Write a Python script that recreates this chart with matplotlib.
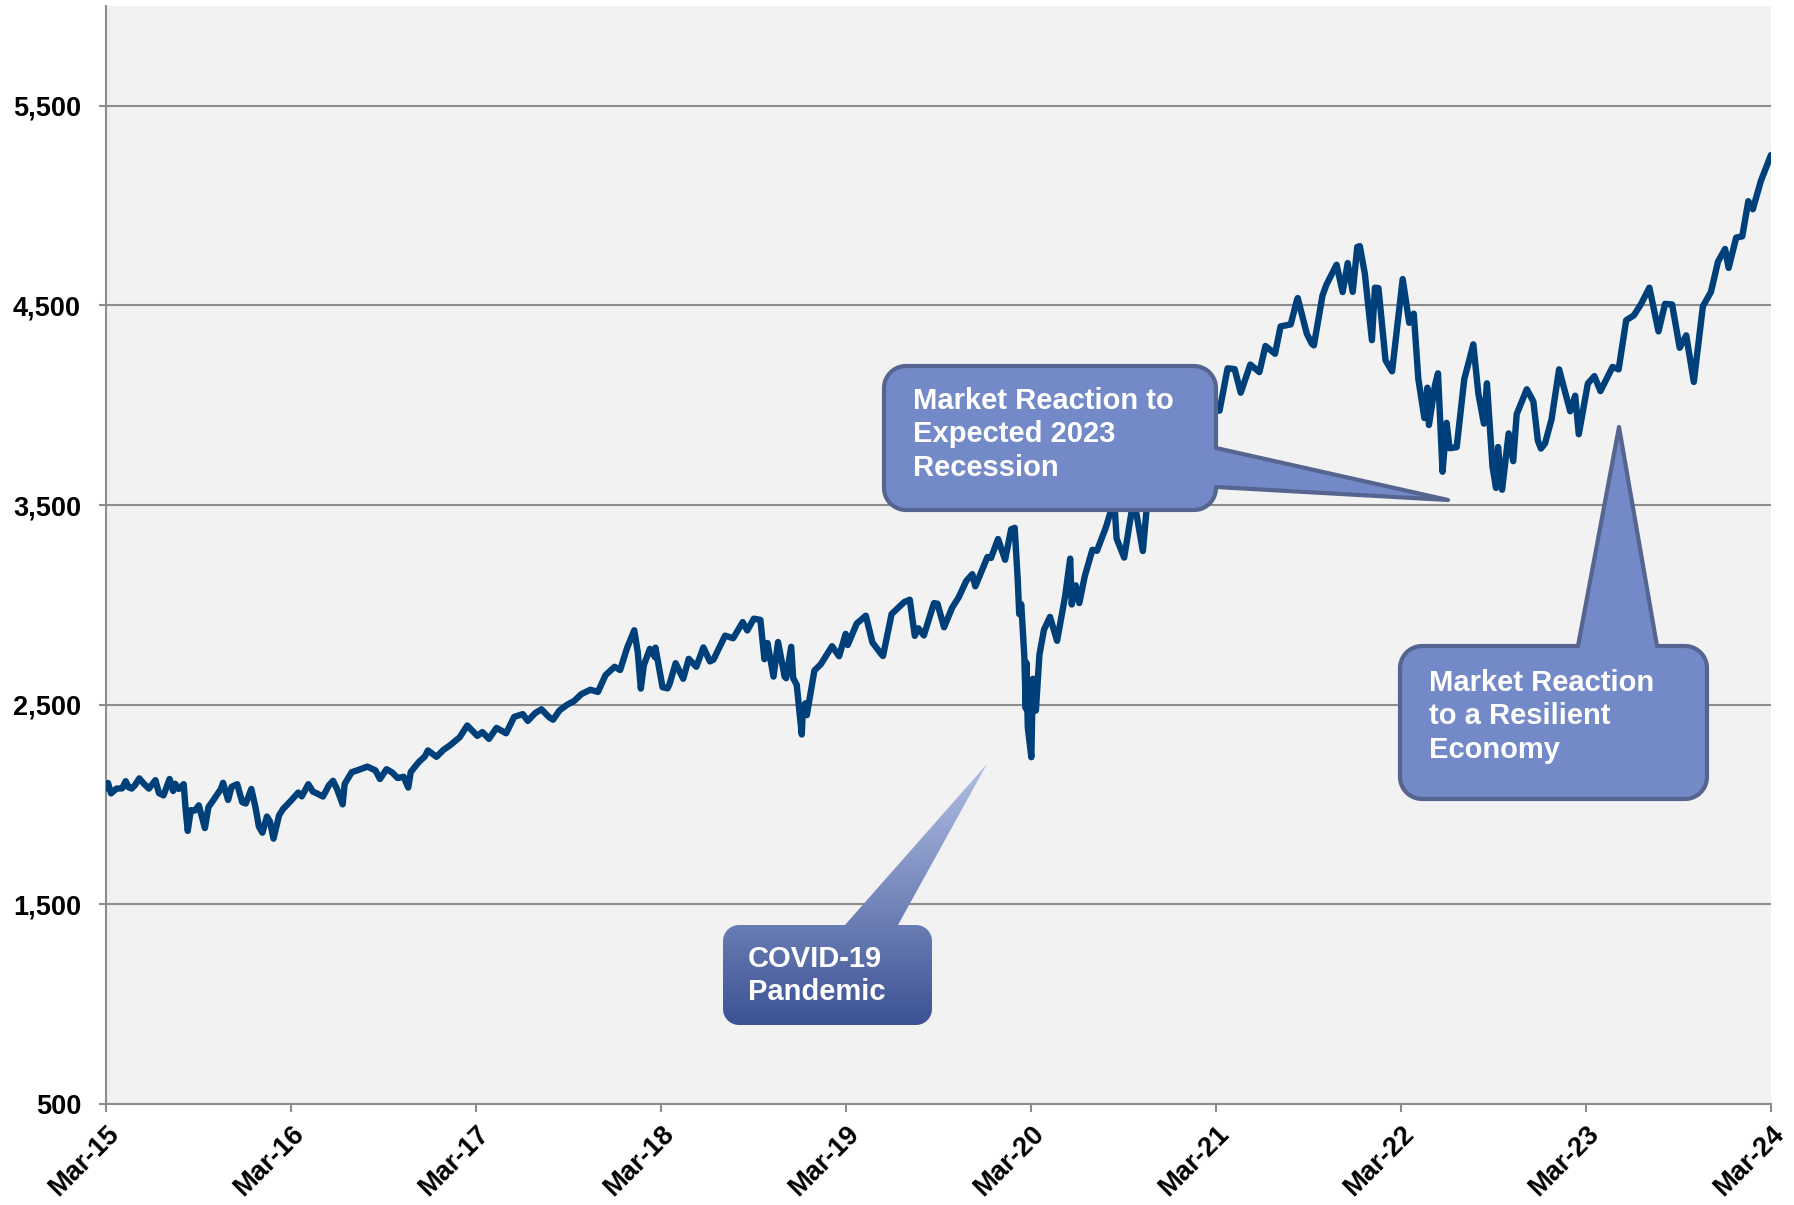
import numpy as np
import pandas as pd
import matplotlib
matplotlib.use("Agg")
import matplotlib.pyplot as plt
from matplotlib.patches import Polygon
from matplotlib.colors import LinearSegmentedColormap
from matplotlib.ticker import FuncFormatter

plt.rcParams['font.family'] = ['Liberation Sans', 'DejaVu Sans']
plt.rcParams['font.weight'] = 'bold'

# S&P 500 Schlusskurse, je Jahr: Tag "MM-TT" und Wert
tage_2015 = ["03-16", "03-20", "03-26", "04-06", "04-17", "04-24", "04-30", "05-06", "05-13", "05-21",
             "05-29", "06-09", "06-22", "06-29", "07-08", "07-20", "07-27", "07-31", "08-07", "08-17",
             "08-21", "08-25", "08-31", "09-08", "09-16", "09-28", "10-05", "10-15", "10-30", "11-03",
             "11-13", "11-20", "12-01", "12-11", "12-18", "12-29"]
werte_2015 = [2081, 2108, 2056, 2080, 2081, 2117, 2086, 2080, 2099, 2131,
              2107, 2080, 2122, 2057, 2046, 2128, 2068, 2104, 2078, 2102,
              1971, 1868, 1972, 1970, 1996, 1882, 1987, 2023, 2079, 2109,
              2023, 2089, 2102, 2012, 2005, 2078]

tage_2016 = ["01-06", "01-13", "01-20", "01-29", "02-04", "02-11", "02-22", "03-01", "03-15", "03-31",
             "04-07", "04-20", "04-29", "05-06", "05-19", "05-31", "06-08", "06-16", "06-27", "07-01",
             "07-15", "07-29", "08-15", "08-31", "09-09", "09-22", "10-03", "10-14", "10-26", "11-04",
             "11-09", "11-25", "12-07", "12-13", "12-30"]
werte_2016 = [1990, 1890, 1859, 1940, 1915, 1829, 1946, 1978, 2015, 2060,
              2041, 2102, 2065, 2057, 2040, 2097, 2119, 2077, 2001, 2103,
              2162, 2174, 2190, 2171, 2128, 2177, 2161, 2133, 2139, 2085,
              2163, 2213, 2241, 2271, 2239]

tage_2017 = ["01-13", "01-26", "02-14", "03-01", "03-21", "03-31", "04-13", "04-28", "05-17", "06-02",
             "06-19", "06-29", "07-14", "07-26", "08-10", "08-18", "08-31", "09-15", "09-29", "10-13",
             "10-31", "11-15", "11-30", "12-18", "12-29"]
werte_2017 = [2274, 2297, 2337, 2396, 2344, 2363, 2329, 2384, 2357, 2439,
              2453, 2419, 2459, 2477, 2438, 2425, 2472, 2500, 2519, 2553,
              2575, 2564, 2648, 2690, 2674]

tage_2018 = ["01-12", "01-26", "02-02", "02-08", "02-14", "02-26", "03-08", "03-09", "03-23", "04-02",
             "04-06", "04-18", "05-03", "05-14", "05-29", "06-12", "06-25", "07-02", "07-25", "08-10",
             "08-29", "09-07", "09-20", "10-03", "10-11", "10-17", "10-29", "11-07", "11-20", "11-23",
             "12-03", "12-07", "12-14", "12-24", "12-26", "12-31"]
werte_2018 = [2786, 2873, 2762, 2581, 2698, 2780, 2738, 2786, 2588, 2582,
              2604, 2708, 2630, 2730, 2690, 2787, 2717, 2726, 2846, 2833,
              2914, 2872, 2931, 2925, 2728, 2809, 2641, 2814, 2641, 2633,
              2790, 2633, 2600, 2351, 2468, 2507]

tage_2019 = ["01-03", "01-18", "01-31", "02-22", "03-08", "03-21", "03-25", "04-12", "04-30", "05-13",
             "05-31", "06-03", "06-20", "07-15", "07-26", "08-05", "08-12", "08-23", "09-12", "09-19",
             "10-02", "10-18", "10-31", "11-15", "11-27", "12-03", "12-27"]
werte_2019 = [2448, 2671, 2704, 2793, 2743, 2855, 2799, 2907, 2946, 2812,
              2752, 2744, 2954, 3014, 3026, 2845, 2883, 2847, 3009, 3006,
              2888, 2986, 3038, 3120, 3154, 3093, 3240]

tage_2020 = ["01-03", "01-17", "01-31", "02-12", "02-19", "02-25", "02-28", "03-03", "03-09", "03-12",
             "03-13", "03-16", "03-23", "03-26", "04-01", "04-08", "04-17", "04-29", "05-13", "05-29",
             "06-08", "06-11", "06-19", "06-26", "07-07", "07-22", "07-31", "08-18", "08-31", "09-02",
             "09-08", "09-23", "10-12", "10-30", "11-09", "11-30", "12-18", "12-31"]
werte_2020 = [3235, 3330, 3226, 3379, 3386, 3128, 2954, 3003, 2747, 2481,
              2711, 2386, 2237, 2630, 2471, 2750, 2875, 2940, 2820, 3044,
              3232, 3002, 3098, 3009, 3145, 3276, 3271, 3390, 3500, 3580,
              3332, 3237, 3535, 3270, 3550, 3622, 3709, 3756]

tage_2021 = ["01-08", "01-29", "02-12", "03-04", "03-17", "03-31", "04-16", "04-30", "05-12", "05-31",
             "06-18", "06-30", "07-19", "07-30", "08-19", "08-31", "09-02", "09-20", "09-30", "10-04",
             "10-21", "10-29", "11-18", "11-30", "12-10", "12-20", "12-29"]
werte_2021 = [3825, 3714, 3934, 3768, 3975, 3973, 4185, 4181, 4063, 4204,
              4166, 4297, 4258, 4395, 4405, 4523, 4537, 4358, 4308, 4300,
              4549, 4605, 4704, 4567, 4712, 4568, 4793]

tage_2022 = ["01-03", "01-13", "01-27", "02-02", "02-09", "02-23", "03-08", "03-29", "04-11", "04-20",
             "04-29", "05-11", "05-17", "05-20", "06-01", "06-07", "06-16", "06-24", "06-30", "07-14",
             "07-29", "08-16", "08-26", "09-06", "09-12", "09-23", "09-30", "10-04", "10-12", "10-25",
             "11-03", "11-10", "11-30", "12-13", "12-22", "12-28"]
werte_2022 = [4797, 4659, 4326, 4589, 4587, 4225, 4170, 4632, 4413, 4459,
              4132, 3936, 4088, 3901, 4101, 4160, 3667, 3912, 3785, 3790,
              4130, 4305, 4058, 3908, 4110, 3693, 3586, 3791, 3577, 3859,
              3720, 3956, 4080, 4019, 3822, 3783]

tage_2023 = ["01-05", "01-18", "02-02", "02-24", "03-06", "03-13", "03-31", "04-13", "04-25", "05-19",
             "05-31", "06-15", "06-30", "07-14", "07-31", "08-18", "08-31", "09-14", "09-29", "10-12",
             "10-27", "11-14", "11-30", "12-14", "12-28"]
werte_2023 = [3808, 3929, 4180, 3970, 4048, 3855, 4109, 4146, 4071, 4192,
              4180, 4426, 4450, 4505, 4589, 4370, 4508, 4505, 4288, 4350,
              4117, 4496, 4568, 4720, 4783]

tage_2024 = ["01-04", "01-19", "01-31", "02-12", "02-21", "03-08", "03-28"]
werte_2024 = [4688, 4840, 4846, 5022, 4982, 5124, 5254]

x_labels = ["Mar-15", "Mar-16", "Mar-17", "Mar-18", "Mar-19", "Mar-20", "Mar-21", "Mar-22", "Mar-23", "Mar-24"]
y_ticks = [500, 1500, 2500, 3500, 4500, 5500]

# Texte der Sprechblasen
text_covid = ["COVID-19", "Pandemic"]
text_rezession = ["Market Reaction to", "Expected 2023", "Recession"]
text_robust = ["Market Reaction", "to a Resilient", "Economy"]

# Zusammenbauen
jahre = {2015: (tage_2015, werte_2015), 2016: (tage_2016, werte_2016), 2017: (tage_2017, werte_2017),
         2018: (tage_2018, werte_2018), 2019: (tage_2019, werte_2019), 2020: (tage_2020, werte_2020),
         2021: (tage_2021, werte_2021), 2022: (tage_2022, werte_2022), 2023: (tage_2023, werte_2023),
         2024: (tage_2024, werte_2024)}
datum = []
kurs = []
for jahr, (t, w) in jahre.items():
    datum += [f"{jahr}-{e}" for e in t]
    kurs += w
datum = pd.to_datetime(datum)

W, H = 1794, 1205
fig = plt.figure(figsize=(W / 100, H / 100), dpi=100)
ax = fig.add_axes([106 / W, 1 - 1104 / H, (1771 - 106) / W, (1104 - 6) / H])
ax.set_facecolor('#f2f2f2')

ax.plot(datum, kurs, color='#00407a', lw=4.6, solid_joinstyle='round', solid_capstyle='round', zorder=3)

ax.set_ylim(500, 6000)
ax.set_yticks(y_ticks)
ax.yaxis.set_major_formatter(FuncFormatter(lambda v, p: f"{int(v):,}"))
ax.yaxis.grid(True, color='#8c8c8c', lw=1.5)
ax.set_axisbelow(True)

x0 = matplotlib.dates.date2num(datum[0])
x1 = matplotlib.dates.date2num(datum[-1])
ax.set_xlim(x0, x1)
ax.set_xticks(np.linspace(x0, x1, len(x_labels)))
ax.set_xticklabels(x_labels)

for s in ['top', 'right']:
    ax.spines[s].set_visible(False)
for s in ['left', 'bottom']:
    ax.spines[s].set_color('#8c8c8c')
    ax.spines[s].set_linewidth(1.5)

ax.tick_params(axis='y', length=5, width=1.5, color='#8c8c8c', pad=13, labelsize=19.5)
ax.tick_params(axis='x', length=6, width=1.5, color='#8c8c8c', pad=6, labelsize=19.5)
plt.setp(ax.get_xticklabels(), rotation=45, ha='right', va='top', rotation_mode='anchor')

# Overlay in Pixelkoordinaten (y nach unten) fuer die Sprechblasen
ov = fig.add_axes([0, 0, 1, 1])


def sprechblase(x0, y0, x1, y1, r, seite, a, b, spitze, n=12):
    """Eckpunkte einer abgerundeten Box mit Zipfel"""
    pts = []

    def bogen(cx, cy, w0, w1):
        for w in np.radians(np.linspace(w0, w1, n)):
            pts.append((cx + r * np.cos(w), cy + r * np.sin(w)))

    bogen(x0 + r, y0 + r, 180, 270)
    if seite == 'oben':
        pts += [(a, y0), spitze, (b, y0)]
    bogen(x1 - r, y0 + r, 270, 360)
    if seite == 'rechts':
        pts += [(x1, a), spitze, (x1, b)]
    bogen(x1 - r, y1 - r, 0, 90)
    bogen(x0 + r, y1 - r, 90, 180)
    return pts


# COVID-Blase mit Farbverlauf
form = Polygon(sprechblase(723, 925, 932, 1025, 16, 'oben', 845, 898, (987, 764)),
               closed=True, fc='none', ec='none')
ov.add_patch(form)
verlauf = LinearSegmentedColormap.from_list('v', ['#b2bfe4', '#3c5294'])
bild = ov.imshow(np.linspace(0, 1, 256).reshape(-1, 1), cmap=verlauf,
                 extent=[715, 1000, 1025, 764], aspect='auto', zorder=2)
bild.set_clip_path(form)
for i, zeile in enumerate(text_covid):
    ov.text(748, 967 + i * 33, zeile, color='white', fontsize=21, fontweight='bold', va='baseline', zorder=4)

# Blasen mit Rand
blasen = [
    (sprechblase(884, 366, 1216, 510, 22, 'rechts', 448, 487, (1448, 500)), text_rezession, 913, 409),
    (sprechblase(1400, 646, 1707, 799, 22, 'oben', 1578, 1657, (1619, 427)), text_robust, 1429, 691),
]
for pts, zeilen, tx, ty in blasen:
    ov.add_patch(Polygon(pts, closed=True, fc='#7389c8', ec='#55658f', lw=3, joinstyle='round', zorder=3))
    for i, zeile in enumerate(zeilen):
        ov.text(tx, ty + i * 33.5, zeile, color='white', fontsize=21, fontweight='bold', va='baseline', zorder=4)

ov.set_xlim(0, W)
ov.set_ylim(H, 0)
ov.axis('off')

fig.savefig('out.png', dpi=100)
